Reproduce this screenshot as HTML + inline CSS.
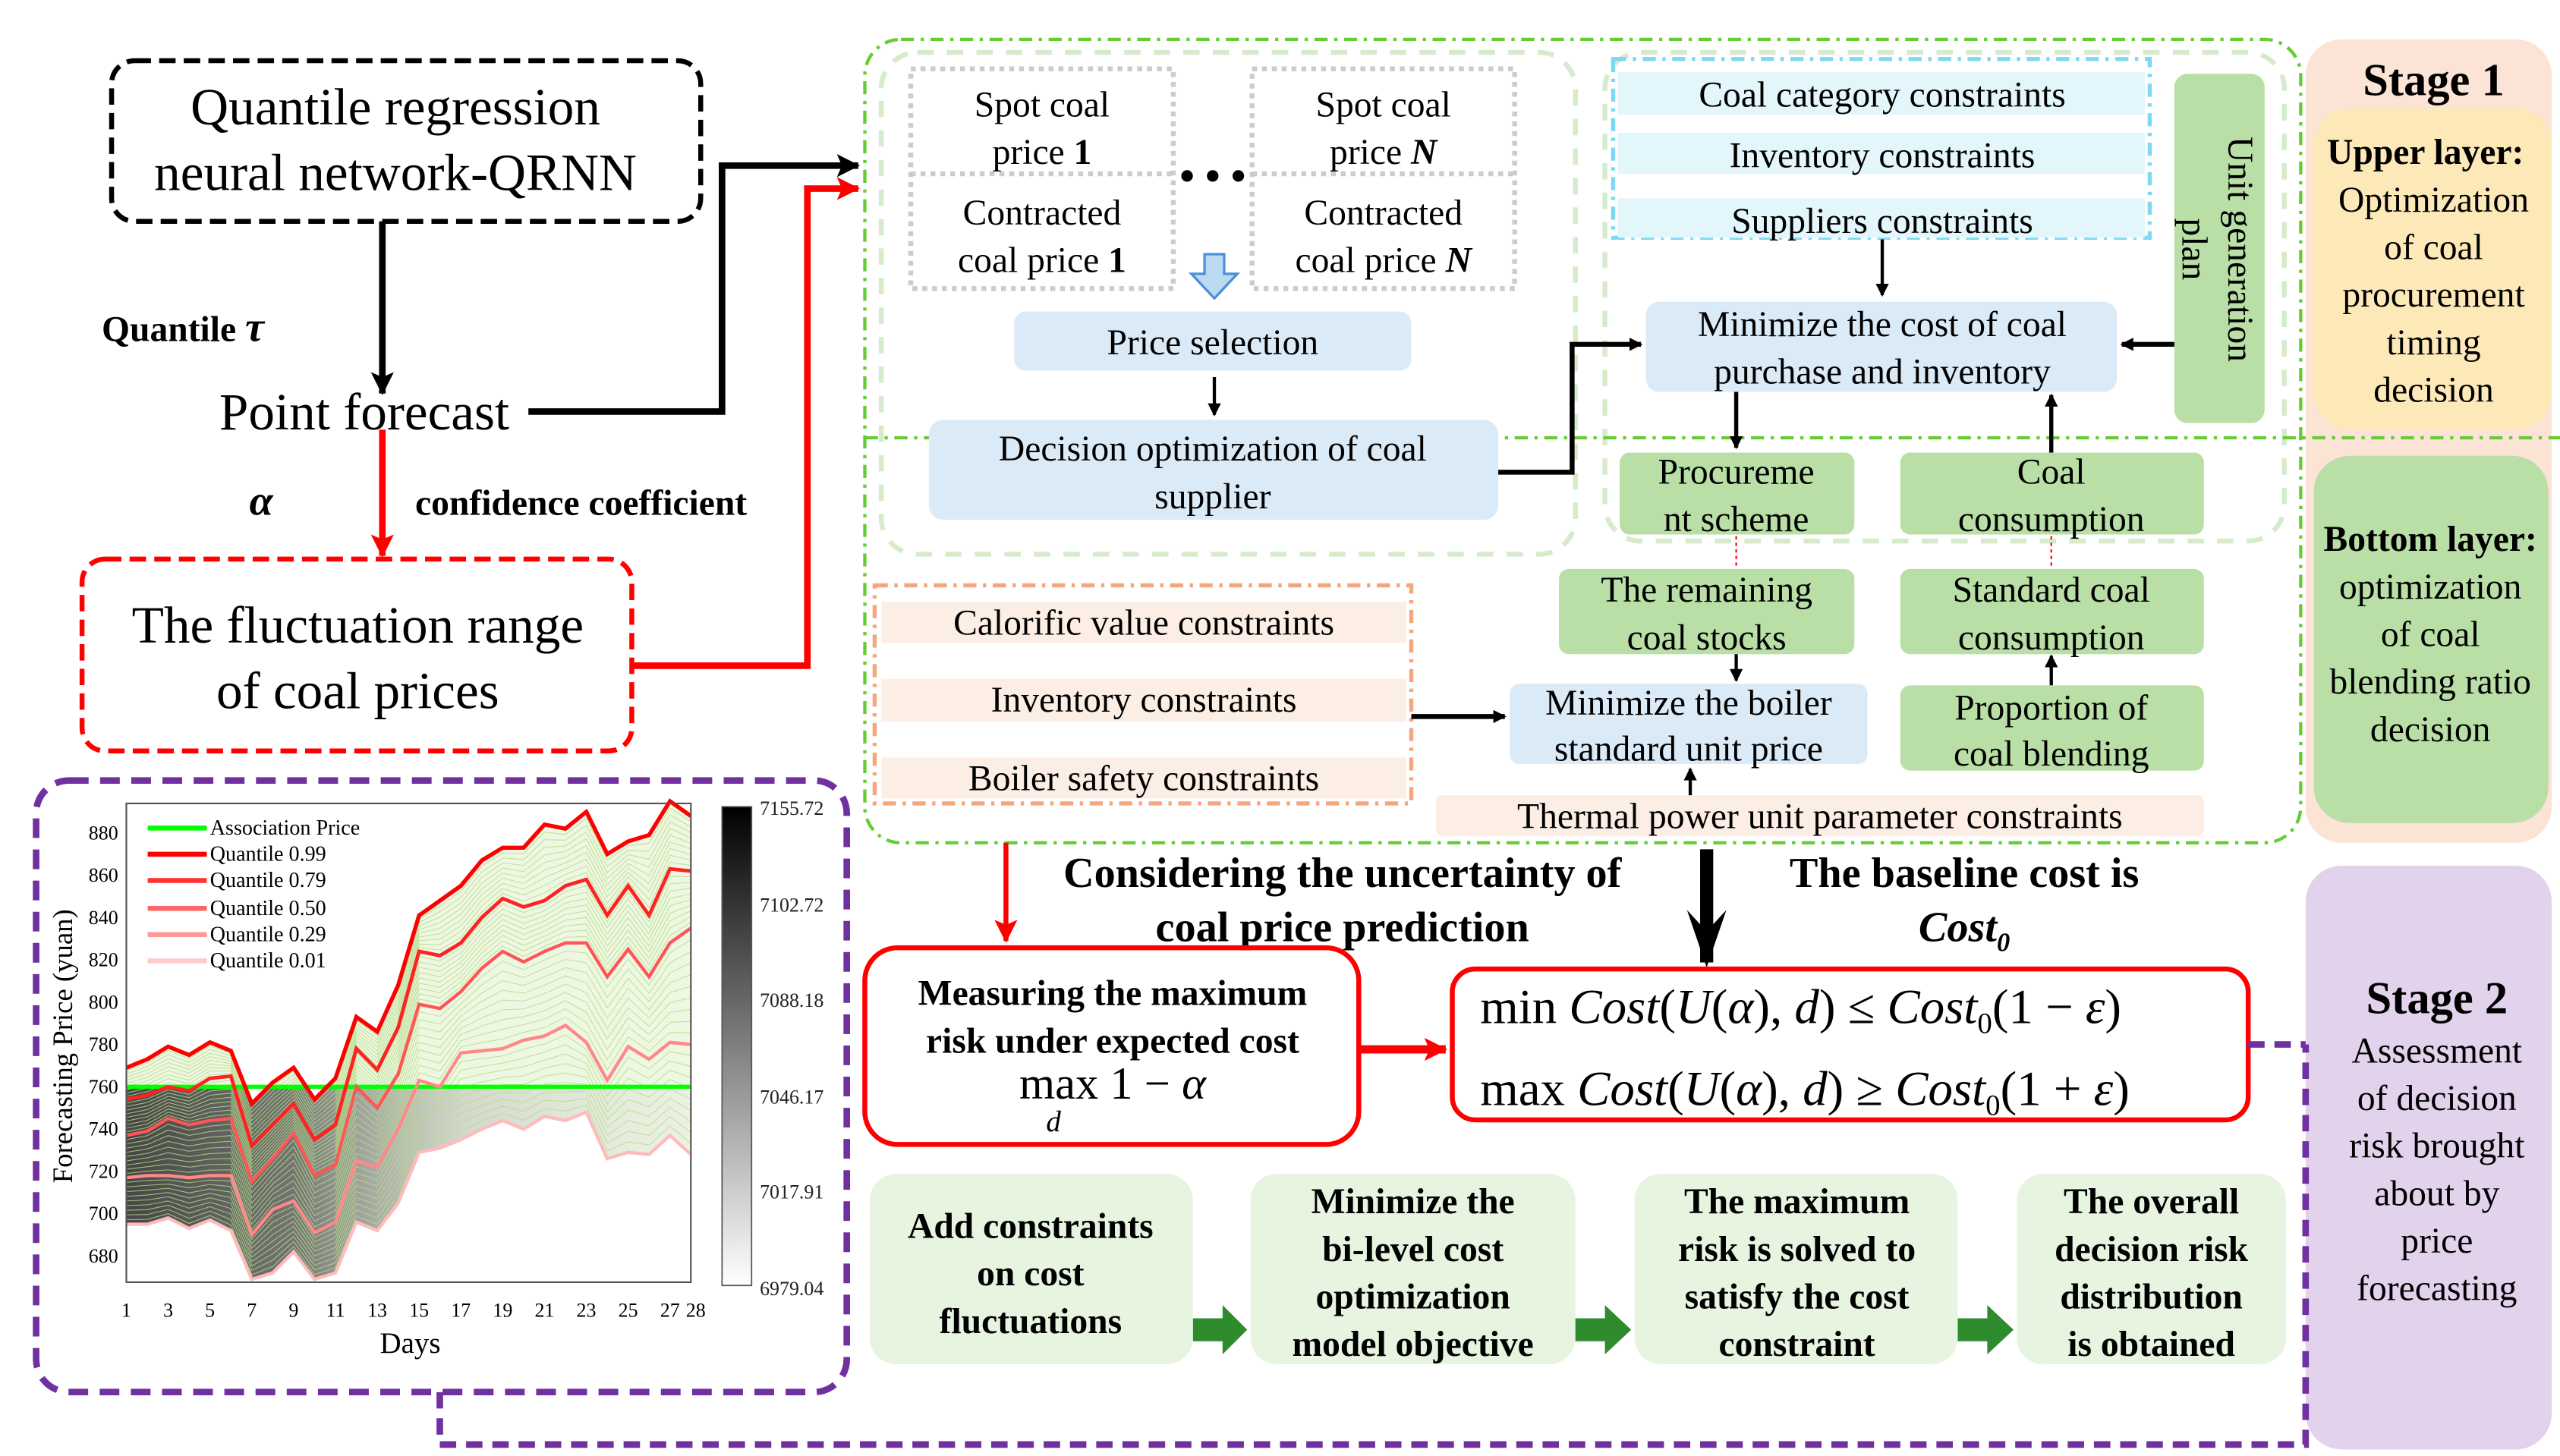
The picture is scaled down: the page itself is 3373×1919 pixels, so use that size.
<!DOCTYPE html>
<html><head><meta charset="utf-8">
<style>
html,body{margin:0;padding:0;background:#fff;}
svg{display:block;}
text{font-family:"Liberation Serif",serif;}
.t{font-size:22px;text-anchor:middle;}
.b{font-weight:bold;}
</style></head>
<body>
<svg id="s" width="3373" height="1919" viewBox="0 0 1560 888" preserveAspectRatio="none" xmlns="http://www.w3.org/2000/svg">
<defs>
<marker id="ak" markerWidth="8" markerHeight="8" refX="7" refY="4" orient="auto" markerUnits="userSpaceOnUse"><path d="M0,0 L8,4 L0,8 z" fill="#000"/></marker>
<marker id="ak2" markerWidth="14" markerHeight="14" refX="13" refY="7" orient="auto" markerUnits="userSpaceOnUse"><path d="M0,0 L14,7 L0,14 L3,7 z" fill="#000"/></marker>
<marker id="ar" markerWidth="14" markerHeight="14" refX="13" refY="7" orient="auto" markerUnits="userSpaceOnUse"><path d="M0,0 L14,7 L0,14 L3,7 z" fill="#f00"/></marker>
<linearGradient id="cb" x1="0" y1="0" x2="0" y2="1"><stop offset="0" stop-color="#000"/><stop offset="1" stop-color="#fff"/></linearGradient>
<linearGradient id="gr" x1="0" y1="0" x2="1" y2="0"><stop offset="0" stop-color="#333" stop-opacity=".9"/><stop offset=".3" stop-color="#555" stop-opacity=".8"/><stop offset=".6" stop-color="#aaa" stop-opacity=".4"/><stop offset="1" stop-color="#ddd" stop-opacity=".2"/></linearGradient>
<clipPath id="cp"><polygon id="cpp" points=""/></clipPath>
</defs>

<!-- Stage panels -->
<rect x="1405" y="24" width="150" height="490" rx="22" fill="#fbe3d6"/>
<rect x="1410" y="66" width="145" height="196" rx="22" fill="#fde9b8"/>
<rect x="1410" y="278" width="143" height="224" rx="22" fill="#b9dfa6"/>
<rect x="1405" y="528" width="150" height="356" rx="22" fill="#e3d2ec"/>
<text x="1483" y="58" class="t b" style="font-size:28px">Stage 1</text>
<text x="1478" y="100" class="t b" style="font-size:22px">Upper layer:</text>
<text x="1483" y="129" class="t">Optimization</text>
<text x="1483" y="158" class="t">of coal</text>
<text x="1483" y="187" class="t">procurement</text>
<text x="1483" y="216" class="t">timing</text>
<text x="1483" y="245" class="t">decision</text>
<text x="1481" y="336" class="t b">Bottom layer:</text>
<text x="1481" y="365" class="t">optimization</text>
<text x="1481" y="394" class="t">of coal</text>
<text x="1481" y="423" class="t">blending ratio</text>
<text x="1481" y="452" class="t">decision</text>
<text x="1485" y="618" class="t b" style="font-size:28px">Stage 2</text>
<text x="1485" y="648" class="t">Assessment</text>
<text x="1485" y="677" class="t">of decision</text>
<text x="1485" y="706" class="t">risk brought</text>
<text x="1485" y="735" class="t">about by</text>
<text x="1485" y="764" class="t">price</text>
<text x="1485" y="793" class="t">forecasting</text>

<!-- QRNN -->
<rect x="68" y="37" width="359" height="98" rx="14" fill="none" stroke="#000" stroke-width="3" stroke-dasharray="10,5"/>
<text x="241" y="76" class="t" style="font-size:32px">Quantile regression</text>
<text x="241" y="116" class="t" style="font-size:32px">neural network-QRNN</text>
<line x1="233" y1="135" x2="233" y2="240" stroke="#000" stroke-width="4" marker-end="url(#ar)" style="marker-end:url(#ak2)"/>
<text x="62" y="208" class="b" style="font-size:22px">Quantile <tspan font-style="italic" font-size="26">τ</tspan></text>
<text x="222" y="262" class="t" style="font-size:32px">Point forecast</text>
<polyline points="322,251 440,251 440,101 523,101" fill="none" stroke="#000" stroke-width="4" marker-end="url(#ak2)"/>
<line x1="233" y1="262" x2="233" y2="339" stroke="#f00" stroke-width="4" marker-end="url(#ar)"/>
<text x="152" y="314" class="b" style="font-size:26px;font-style:italic">α</text>
<text x="253" y="314" class="b" style="font-size:22px">confidence coefficient</text>
<rect x="50" y="341" width="335" height="117" rx="14" fill="none" stroke="#f00" stroke-width="3" stroke-dasharray="10,5"/>
<text x="218" y="392" class="t" style="font-size:32px">The fluctuation range</text>
<text x="218" y="432" class="t" style="font-size:32px">of coal prices</text>
<polyline points="385,406 492,406 492,115 523,115" fill="none" stroke="#f00" stroke-width="4" marker-end="url(#ar)"/>

<!-- Stage 1 big box -->
<rect x="527" y="24" width="875" height="490" rx="22" fill="none" stroke="#6c3" stroke-width="2" stroke-dasharray="8,4,2,4"/>
<rect x="537" y="32" width="423" height="306" rx="22" fill="none" stroke="#d6ebcc" stroke-width="3" stroke-dasharray="10,8"/>
<rect x="978" y="32" width="414" height="298" rx="22" fill="none" stroke="#d6ebcc" stroke-width="3" stroke-dasharray="10,8"/>
<line x1="527" y1="267" x2="1560" y2="267" stroke="#6c3" stroke-width="2" stroke-dasharray="8,4,2,4"/>
<rect x="555" y="42" width="160" height="134" fill="none" stroke="#ccc" stroke-width="3" stroke-dasharray="3,3"/>
<line x1="555" y1="106" x2="715" y2="106" stroke="#ccc" stroke-width="3" stroke-dasharray="3,3"/>
<rect x="763" y="42" width="160" height="134" fill="none" stroke="#ccc" stroke-width="3" stroke-dasharray="3,3"/>
<line x1="763" y1="106" x2="923" y2="106" stroke="#ccc" stroke-width="3" stroke-dasharray="3,3"/>
<text x="739" y="116" class="t b" style="font-size:26px">• • •</text>
<text x="635" y="71" class="t">Spot coal</text>
<text x="635" y="100" class="t">price <tspan font-weight="bold">1</tspan></text>
<text x="635" y="137" class="t">Contracted</text>
<text x="635" y="166" class="t">coal price <tspan font-weight="bold">1</tspan></text>
<text x="843" y="71" class="t">Spot coal</text>
<text x="843" y="100" class="t">price <tspan font-weight="bold" font-style="italic">N</tspan></text>
<text x="843" y="137" class="t">Contracted</text>
<text x="843" y="166" class="t">coal price <tspan font-weight="bold" font-style="italic">N</tspan></text>
<path d="M734,155 L746,155 L746,167 L754,167 L740,182 L726,167 L734,167 z" fill="#bcd9f2" stroke="#4a90d9" stroke-width="1.5"/>
<rect x="618" y="190" width="242" height="36" rx="7" fill="#dbeaf7"/>
<text x="739" y="216" class="t">Price selection</text>
<line x1="740" y1="230" x2="740" y2="253" stroke="#000" stroke-width="2" marker-end="url(#ak)"/>
<rect x="566" y="256" width="347" height="61" rx="9" fill="#dbeaf7"/>
<text x="739" y="281" class="t">Decision optimization of coal</text>
<text x="739" y="310" class="t">supplier</text>
<polyline points="913,288 958,288 958,210 1000,210" fill="none" stroke="#000" stroke-width="3" marker-end="url(#ak)"/>

<rect x="983" y="36" width="327" height="109" fill="none" stroke="#7dd8f3" stroke-width="2.5" stroke-dasharray="8,4,2,4"/>
<rect x="986" y="44" width="321" height="26" fill="#e3f6fc"/>
<rect x="986" y="81" width="321" height="25" fill="#e3f6fc"/>
<rect x="986" y="121" width="321" height="24" fill="#e3f6fc"/>
<text x="1147" y="65" class="t">Coal category constraints</text>
<text x="1147" y="102" class="t">Inventory constraints</text>
<text x="1147" y="142" class="t">Suppliers constraints</text>
<line x1="1147" y1="146" x2="1147" y2="180" stroke="#000" stroke-width="2" marker-end="url(#ak)"/>
<rect x="1003" y="184" width="287" height="55" rx="8" fill="#dbeaf7"/>
<text x="1147" y="205" class="t">Minimize the cost of coal</text>
<text x="1147" y="234" class="t">purchase and inventory</text>
<rect x="1325" y="45" width="55" height="213" rx="8" fill="#b9dfa6"/>
<text transform="translate(1358,152) rotate(90)" class="t">Unit generation</text>
<text transform="translate(1330,152) rotate(90)" class="t">plan</text>
<line x1="1325" y1="210" x2="1293" y2="210" stroke="#000" stroke-width="3" marker-end="url(#ak)"/>
<line x1="1058" y1="239" x2="1058" y2="273" stroke="#000" stroke-width="2.5" marker-end="url(#ak)"/>
<line x1="1250" y1="276" x2="1250" y2="241" stroke="#000" stroke-width="2.5" marker-end="url(#ak)"/>
<rect x="987" y="276" width="143" height="50" rx="6" fill="#b9dfa6"/>
<text x="1058" y="295" class="t">Procureme</text>
<text x="1058" y="324" class="t">nt scheme</text>
<rect x="1158" y="276" width="185" height="50" rx="6" fill="#b9dfa6"/>
<text x="1250" y="295" class="t">Coal</text>
<text x="1250" y="324" class="t">consumption</text>
<line x1="1058" y1="327" x2="1058" y2="346" stroke="#f00" stroke-width="1" stroke-dasharray="2,2"/>
<line x1="1250" y1="327" x2="1250" y2="346" stroke="#f00" stroke-width="1" stroke-dasharray="2,2"/>
<rect x="950" y="347" width="180" height="52" rx="6" fill="#b9dfa6"/>
<text x="1040" y="367" class="t">The remaining</text>
<text x="1040" y="396" class="t">coal stocks</text>
<rect x="1158" y="347" width="185" height="52" rx="6" fill="#b9dfa6"/>
<text x="1250" y="367" class="t">Standard coal</text>
<text x="1250" y="396" class="t">consumption</text>
<line x1="1058" y1="399" x2="1058" y2="415" stroke="#000" stroke-width="2" marker-end="url(#ak)"/>
<line x1="1250" y1="418" x2="1250" y2="400" stroke="#000" stroke-width="2" marker-end="url(#ak)"/>
<rect x="533" y="357" width="327" height="133" fill="none" stroke="#f4a77c" stroke-width="2.5" stroke-dasharray="8,4,2,4"/>
<rect x="537" y="367" width="320" height="25" fill="#fdeee5"/>
<rect x="537" y="414" width="320" height="26" fill="#fdeee5"/>
<rect x="537" y="462" width="320" height="25" fill="#fdeee5"/>
<text x="697" y="387" class="t">Calorific value constraints</text>
<text x="697" y="434" class="t">Inventory constraints</text>
<text x="697" y="482" class="t">Boiler safety constraints</text>
<line x1="860" y1="437" x2="917" y2="437" stroke="#000" stroke-width="3" marker-end="url(#ak)"/>
<rect x="920" y="417" width="218" height="49" rx="6" fill="#dbeaf7"/>
<text x="1029" y="436" class="t">Minimize the boiler</text>
<text x="1029" y="464" class="t">standard unit price</text>
<rect x="1158" y="418" width="185" height="52" rx="6" fill="#b9dfa6"/>
<text x="1250" y="439" class="t">Proportion of</text>
<text x="1250" y="467" class="t">coal blending</text>
<rect x="875" y="485" width="468" height="25" rx="4" fill="#fdeee5"/>
<text x="1109" y="505" class="t">Thermal power unit parameter constraints</text>
<line x1="1030" y1="485" x2="1030" y2="469" stroke="#000" stroke-width="2" marker-end="url(#ak)"/>

<!-- Stage 2 -->
<line x1="613" y1="514" x2="613" y2="574" stroke="#f00" stroke-width="3" marker-end="url(#ar)"/>
<text x="818" y="541" class="t b" style="font-size:26px">Considering the uncertainty of</text>
<text x="818" y="574" class="t b" style="font-size:26px">coal price prediction</text>
<line x1="1040" y1="518" x2="1040" y2="587" stroke="#000" stroke-width="8"/>
<path d="M1028,555 L1040,590 L1052,555 L1040,568 z" fill="#000"/>
<text x="1197" y="541" class="t b" style="font-size:26px">The baseline cost is</text>
<text x="1197" y="574" class="t b" style="font-size:26px;font-style:italic">Cost<tspan font-size="16" dy="6">0</tspan></text>
<rect x="527" y="578" width="301" height="120" rx="20" fill="none" stroke="#f00" stroke-width="3"/>
<text x="678" y="613" class="t b">Measuring the maximum</text>
<text x="678" y="642" class="t b">risk under expected cost</text>
<text x="678" y="670" class="t" style="font-size:28px">max 1 − <tspan font-style="italic">α</tspan></text>
<text x="642" y="690" class="t" style="font-size:18px;font-style:italic">d</text>
<line x1="828" y1="640" x2="881" y2="640" stroke="#f00" stroke-width="5" marker-end="url(#ar)"/>
<rect x="885" y="591" width="485" height="92" rx="14" fill="none" stroke="#f00" stroke-width="3"/>
<text x="902" y="624" style="font-size:30px">min <tspan font-style="italic">Cost</tspan>(<tspan font-style="italic">U</tspan>(<tspan font-style="italic">α</tspan>), <tspan font-style="italic">d</tspan>) ≤ <tspan font-style="italic">Cost</tspan><tspan font-size="18" dy="6">0</tspan><tspan dy="-6">(1 − </tspan><tspan font-style="italic">ε</tspan>)</text>
<text x="902" y="674" style="font-size:30px">max <tspan font-style="italic">Cost</tspan>(<tspan font-style="italic">U</tspan>(<tspan font-style="italic">α</tspan>), <tspan font-style="italic">d</tspan>) ≥ <tspan font-style="italic">Cost</tspan><tspan font-size="18" dy="6">0</tspan><tspan dy="-6">(1 + </tspan><tspan font-style="italic">ε</tspan>)</text>

<g fill="#e6f4e0">
<rect x="530" y="716" width="197" height="116" rx="16"/>
<rect x="762" y="716" width="198" height="116" rx="16"/>
<rect x="996" y="716" width="197" height="116" rx="16"/>
<rect x="1229" y="716" width="164" height="116" rx="16"/>
</g>
<g fill="#2e8b2e">
<path d="M727,804 L745,804 L745,796 L760,811 L745,826 L745,818 L727,818 z"/>
<path d="M960,804 L978,804 L978,796 L994,811 L978,826 L978,818 L960,818 z"/>
<path d="M1193,804 L1211,804 L1211,796 L1227,811 L1211,826 L1211,818 L1193,818 z"/>
</g>
<text x="628" y="755" class="t b">Add constraints</text>
<text x="628" y="784" class="t b">on cost</text>
<text x="628" y="813" class="t b">fluctuations</text>
<text x="861" y="740" class="t b">Minimize the</text>
<text x="861" y="769" class="t b">bi-level cost</text>
<text x="861" y="798" class="t b">optimization</text>
<text x="861" y="827" class="t b">model objective</text>
<text x="1095" y="740" class="t b">The maximum</text>
<text x="1095" y="769" class="t b">risk is solved to</text>
<text x="1095" y="798" class="t b">satisfy the cost</text>
<text x="1095" y="827" class="t b">constraint</text>
<text x="1311" y="740" class="t b">The overall</text>
<text x="1311" y="769" class="t b">decision risk</text>
<text x="1311" y="798" class="t b">distribution</text>
<text x="1311" y="827" class="t b">is obtained</text>

<polyline points="1370,637 1405,637" fill="none" stroke="#7030a0" stroke-width="4" stroke-dasharray="10,6"/>
<polyline points="268,849 268,881 1405,881 1405,637" fill="none" stroke="#7030a0" stroke-width="4" stroke-dasharray="10,6"/>
<rect x="22" y="476" width="494" height="373" rx="20" fill="#fff" stroke="#7030a0" stroke-width="4" stroke-dasharray="12,7"/>

<!-- chart -->
<g id="chart"></g>
<rect x="77" y="490" width="344" height="292" fill="none" stroke="#555" stroke-width="1"/>
<rect x="440" y="492" width="18" height="292" fill="url(#cb)" stroke="#555" stroke-width="0.8"/>
<g style="font-size:12px" fill="#222">
<text x="463" y="497">7155.72</text>
<text x="463" y="556">7102.72</text>
<text x="463" y="614">7088.18</text>
<text x="463" y="673">7046.17</text>
<text x="463" y="731">7017.91</text>
<text x="463" y="790">6979.04</text>
</g>
<text transform="translate(44,638) rotate(-90)" class="t" style="font-size:17px">Forecasting Price (yuan)</text>
<text x="250" y="825" class="t" style="font-size:18px">Days</text>
<g id="leg" style="font-size:13px">
<line x1="90" y1="505" x2="126" y2="505" stroke="#0f0" stroke-width="3"/><text x="128" y="509">Association Price</text>
<line x1="90" y1="521" x2="126" y2="521" stroke="#f00" stroke-width="3"/><text x="128" y="525">Quantile 0.99</text>
<line x1="90" y1="537" x2="126" y2="537" stroke="#f33" stroke-width="3"/><text x="128" y="541">Quantile 0.79</text>
<line x1="90" y1="554" x2="126" y2="554" stroke="#f66" stroke-width="3"/><text x="128" y="558">Quantile 0.50</text>
<line x1="90" y1="570" x2="126" y2="570" stroke="#f99" stroke-width="3"/><text x="128" y="574">Quantile 0.29</text>
<line x1="90" y1="586" x2="126" y2="586" stroke="#fcc" stroke-width="3"/><text x="128" y="590">Quantile 0.01</text>
</g>
</svg>
<script>
(function(){
var q=[
[769,773,779,775,781,777,752,762,769,754,764,793,786,808,841,848,855,867,873,873,884,882,890,870,876,879,895,888],
[754,756,760,758,764,765,732,742,752,735,742,778,768,788,824,822,828,840,849,845,848,855,858,841,855,841,863,862],
[737,739,745,742,744,745,715,726,738,718,723,760,750,766,799,797,805,816,824,819,824,828,828,812,825,812,828,835],
[717,718,718,717,718,718,690,702,706,691,696,725,722,740,763,760,776,777,778,782,784,789,781,763,779,773,781,780],
[695,695,698,693,697,692,669,672,682,669,672,696,692,705,729,731,735,740,744,740,746,744,748,726,729,728,737,728]];
function X(i){return 77+i*344/27;}function Y(v){return Math.min(782,508+(880-v)*1.29);}
var ns="http://www.w3.org/2000/svg",g=document.getElementById('chart');
function el(n,a){var e=document.createElementNS(ns,n);for(var k in a)e.setAttribute(k,a[k]);g.appendChild(e);return e;}
var top=[],bot=[];for(var i=0;i<28;i++){top.push(X(i)+','+Y(q[0][i]));bot.unshift(X(i)+','+Y(q[4][i]));}
var poly=top.concat(bot).join(' ');
document.getElementById('cpp').setAttribute('points',poly);
el('polygon',{points:poly,fill:'#eef7e2'});
el('rect',{x:77,y:663,width:344,height:120,fill:'url(#gr)','clip-path':'url(#cp)'});
// green interpolated lines
for(var k=0;k<4;k++){for(var s=1;s<10;s++){var t=s/10,p=[];for(var i=0;i<28;i++){var v=q[k][i]*(1-t)+q[k+1][i]*t;p.push(X(i)+','+Y(v));}
el('polyline',{points:p.join(' '),fill:'none',stroke:'#b5dc8a','stroke-width':0.5,opacity:0.8});}}
var cols=['#f00','#f22','#f55','#f88','#fbb'],w=[2.5,2.2,2,2,2];
el('line',{x1:77,y1:Y(760),x2:421,y2:Y(760),stroke:'#0f0','stroke-width':2.5});
for(var k=0;k<5;k++){var p=[];for(var i=0;i<28;i++)p.push(X(i)+','+Y(q[k][i]));el('polyline',{points:p.join(' '),fill:'none',stroke:cols[k],'stroke-width':w[k]});}
var yt=[680,700,720,740,760,780,800,820,840,860,880];
yt.forEach(function(v){var t=el('text',{x:72,y:Y(v)+4,'text-anchor':'end','font-size':12});t.textContent=v;});
[1,3,5,7,9,11,13,15,17,19,21,23,25,27].forEach(function(d){var t=el('text',{x:X(d-1),y:803,'text-anchor':'middle','font-size':12});t.textContent=d==27?'27':d;});
var t=el('text',{x:X(27)+3,y:803,'text-anchor':'middle','font-size':12});t.textContent='28';
})();
</script>
</body></html>
